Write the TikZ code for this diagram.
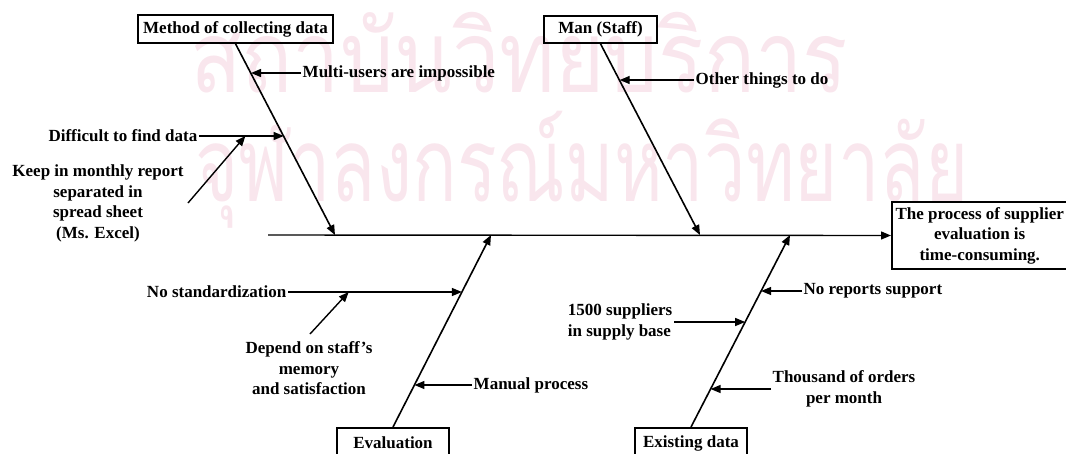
\documentclass[tikz,border=0pt]{standalone}
\usepackage{fontspec}
\setmainfont{Liberation Serif}
\newfontfamily\thaifont[Script=Thai]{Loma}
\usetikzlibrary{arrows.meta,calc}
\definecolor{wm}{RGB}{249,230,237}
\tikzset{
  txt/.style={font=\bfseries\fontsize{17}{20.5}\selectfont, inner sep=1.5pt, align=center},
  catbox/.style={txt, draw, line width=1.5pt, inner sep=0pt},
  bone/.style={line width=1.6pt},
  arr/.style={line width=1.4pt, -{Triangle[length=10pt,width=8pt]}},
  wmark/.style={font=\thaifont\fontsize{100}{100}\selectfont, text=wm, inner sep=0pt, anchor=base west}
}
\begin{document}
\begin{tikzpicture}[x=1pt,y=-1pt]
\useasboundingbox (0,0) rectangle (1066,453);
% watermark
\node[wmark] (wm1) at (190,92) {\scalebox{0.846}[1]{สถาบันวิทยบริการ}};
\node[wmark] (wm2) at (195,201) {\scalebox{0.74}[1.03]{จุฬาลงกรณ์มหาวิทยาลัย}};
% effect and spine
\node[catbox, minimum width=176pt, minimum height=67pt, anchor=west] (eff) at (891,235.5) {The process of supplier\\evaluation is\\time-consuming.};
\coordinate (sp) at (268,235);
\draw[arr] (sp) -- (eff.west);
% category boxes
\node[catbox, minimum width=195pt, minimum height=28pt] (mbox) at (235.5,29) {Method of collecting data};
\node[catbox, minimum width=113pt, minimum height=27pt] (man) at (600.5,29.5) {Man (Staff)};
\node[catbox, minimum width=112pt, minimum height=32pt, anchor=north] (evb) at (393,427) {\raisebox{3pt}{Evaluation}};
\node[catbox, minimum width=112pt, minimum height=32pt, anchor=north] (exb) at (691,427) {\raisebox{3pt}{Existing data}};
% bone tips on spine
\coordinate (mt) at (335,235);
\coordinate (nt) at (700,235);
\coordinate (et) at (491,235);
\coordinate (xt) at (790,235);
\draw[arr, line width=1.6pt] (mbox.south) -- (mt);
\draw[arr, line width=1.6pt] (man.south) -- (nt);
\draw[arr, line width=1.6pt] (evb.north) -- (et);
\draw[arr, line width=1.6pt] (exb.north) -- (xt);
% method causes
\node[txt, anchor=west] (m1) at (301,73) {Multi-users are impossible};
\coordinate (m1p) at ($(mbox.south)!0.156!(mt)$);
\draw[arr] (m1.west) -- (m1.west -| m1p);
\node[txt, anchor=east] (m2) at (199,136) {Difficult to find data};
\coordinate (m2p) at ($(mbox.south)!0.484!(mt)$);
\draw[arr] (m2.east) -- (m2.east -| m2p);
\coordinate (m2q) at ($(m2.east)!0.548!(m2.east -| m2p)$);
\node[txt] (m3) at (98,203.5) {Keep in monthly report\\separated in\\spread sheet\\(Ms. Excel)};
\coordinate (m3s) at (188,203);
\draw[arr] (m3s) -- (m2q);
% man causes
\node[txt, anchor=west] (n1) at (694,80) {Other things to do};
\coordinate (n1p) at ($(man.south)!0.193!(nt)$);
\draw[arr] (n1.west) -- (n1.west -| n1p);
% evaluation causes
\node[txt, anchor=east] (e1) at (288,292) {No standardization};
\coordinate (e1p) at ($(evb.north)!0.703!(et)$);
\draw[arr] (e1.east) -- (e1.east -| e1p);
\coordinate (e1q) at ($(e1.east)!0.349!(e1.east -| e1p)$);
\node[txt] (e2) at (309,368.5) {Depend on staff’s\\memory\\and satisfaction};
\coordinate (e2s) at (310,334);
\draw[arr] (e2s) -- (e1q);
\node[txt, anchor=west] (e3) at (472,385) {Manual process};
\coordinate (e3p) at ($(evb.north)!0.219!(et)$);
\draw[arr] (e3.west) -- (e3.west -| e3p);
% existing data causes
\node[txt, anchor=west] (x1) at (802,291) {No reports support};
\coordinate (x1p) at ($(exb.north)!0.708!(xt)$);
\draw[arr] (x1.west) -- (x1.west -| x1p);
\node[txt, anchor=east, align=left] (x2) at (674,322) {1500 suppliers\\in supply base};
\coordinate (x2p) at ($(exb.north)!0.547!(xt)$);
\draw[arr] (x2.east) -- (x2.east -| x2p);
\node[txt, anchor=west] (x3) at (771,389) {Thousand of orders\\per month};
\coordinate (x3p) at ($(exb.north)!0.198!(xt)$);
\draw[arr] (x3.west) -- (x3.west -| x3p);
\end{tikzpicture}
\end{document}
